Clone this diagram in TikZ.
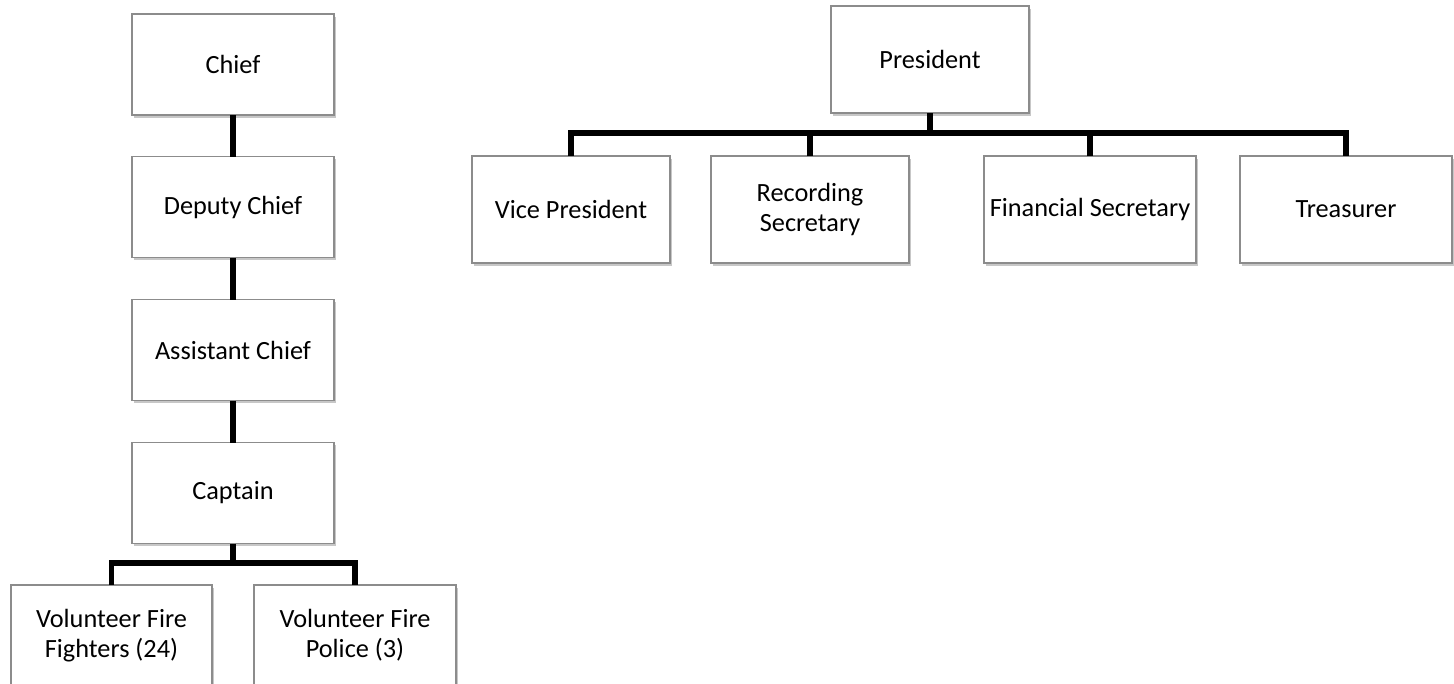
\documentclass[tikz,border=0pt]{standalone}
\usepackage{fontspec}
\setmainfont{Carlito}
\usetikzlibrary{shadows}
\definecolor{boxline}{RGB}{140,140,140}
\tikzset{
  post/.style={draw=boxline, line width=1.2pt, fill=white, inner sep=0pt, outer sep=0pt,
    align=center, font=\fontsize{26.3}{30}\selectfont,
    drop shadow={shadow xshift=1.5pt, shadow yshift=-2.5pt, fill=black, opacity=0.22}},
  leftpost/.style={post, minimum width=202pt, minimum height=101pt},
  toppost/.style={post, minimum height=107pt},
  conn/.style={line width=5.2pt, black, line join=miter, line cap=butt}
}
\begin{document}
\begin{tikzpicture}[x=1pt, y=-1pt]
\useasboundingbox (0,0) rectangle (1454,683);
\clip (0,0) rectangle (1454,683);
\fill[white] (0,0) rectangle (1454,683);

% fire company ranks
\node[leftpost] (chief) at (233,64.5) {Chief};
\node[leftpost] (deputy) at (233,207) {Deputy Chief};
\node[leftpost] (assist) at (233,350) {Assistant Chief};
\node[leftpost] (captain) at (233,493) {Captain};
\node[leftpost, minimum width=201pt] (fighters) at (111.5,635.5) {Volunteer Fire\\Fighters (24)};
\node[leftpost] (police) at (355,635.5) {Volunteer Fire\\Police (3)};
\coordinate (lowbar) at (0,563);

% association officers
\node[toppost, minimum width=198pt] (pres) at (930,59.5) {President};
\node[toppost, minimum width=198pt] (vp) at (571,209.5) {Vice President};
\node[toppost, minimum width=198pt] (rec) at (810,209.5) {Recording\\Secretary};
\node[toppost, minimum width=212pt] (fin) at (1090,209.5) {Financial Secretary};
\node[toppost, minimum width=212pt] (tre) at (1346,209.5) {Treasurer};
\coordinate (topbar) at (0,133);

% connectors run from box edge to box edge
\draw[conn] (chief.south) -- (deputy.north);
\draw[conn] (deputy.south) -- (assist.north);
\draw[conn] (assist.south) -- (captain.north);
\draw[conn] (captain.south) -- (captain.south |- lowbar);
\draw[conn] (fighters.north) -- (fighters.north |- lowbar) -- (police.north |- lowbar) -- (police.north);

\draw[conn] (pres.south) -- (pres.south |- topbar);
\draw[conn] (vp.north) -- (vp.north |- topbar) -- (tre.north |- topbar) -- (tre.north);
\draw[conn] (rec.north) -- (rec.north |- topbar);
\draw[conn] (fin.north) -- (fin.north |- topbar);
\end{tikzpicture}
\end{document}
